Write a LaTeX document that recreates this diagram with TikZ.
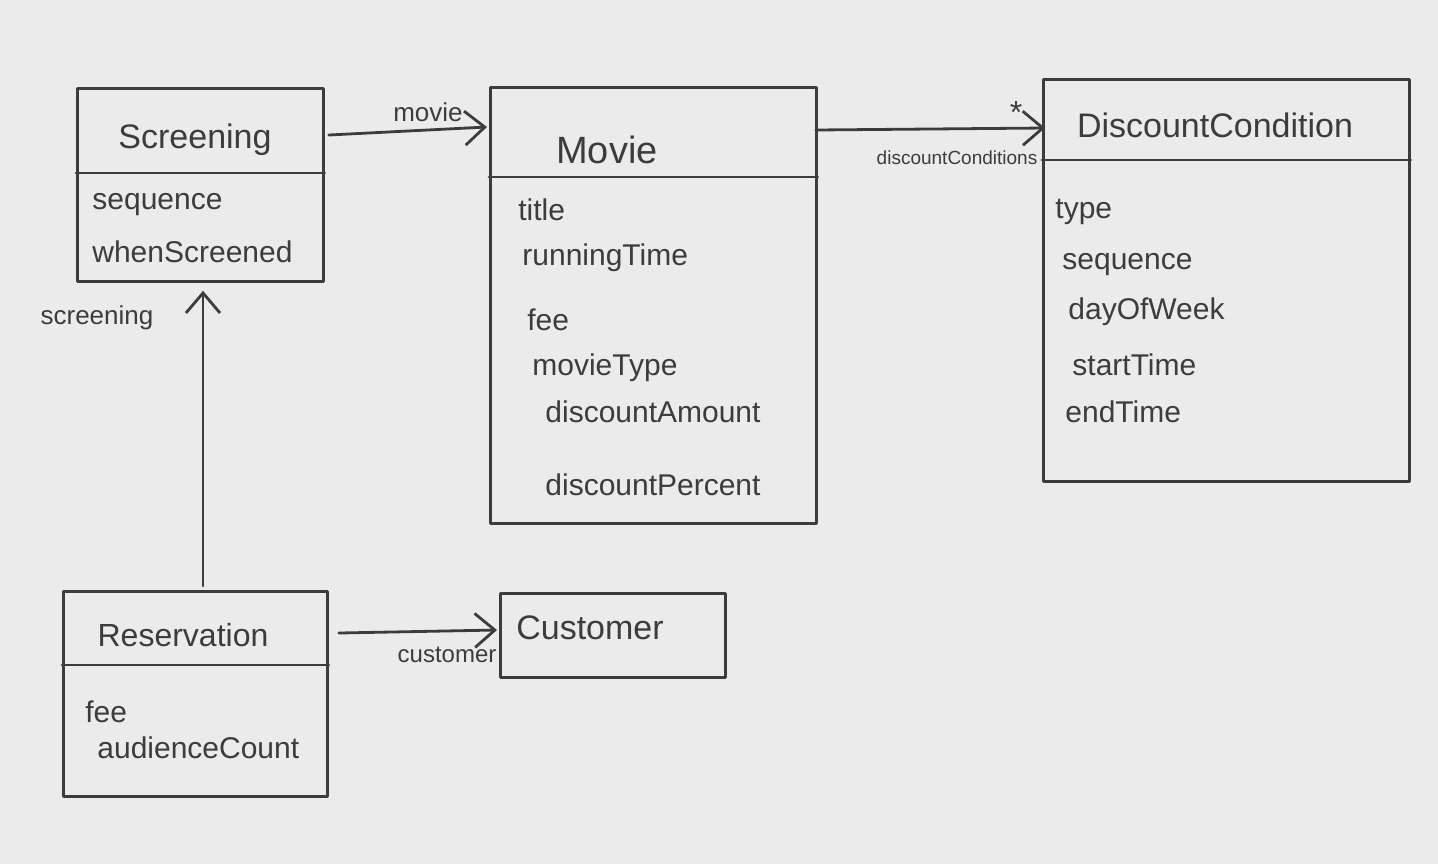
\documentclass[tikz,border=0pt]{standalone}
\usepackage{fontspec}
\setmainfont{Liberation Sans}
\usepackage{tikz}
\usetikzlibrary{calc,arrows.meta}
\definecolor{paper}{HTML}{EBEBEB}
\definecolor{pencil}{HTML}{3C3C3C}
\tikzset{
  cls/.style={draw=pencil, line width=1.4pt, line join=round, anchor=north west, inner sep=0pt},
  sep/.style={draw=pencil, line width=1.4pt, line cap=round},
  assoc/.style={draw=pencil, line width=1.4pt, line cap=round, -{Straight Barb[length=10pt,width=17pt]}},
  ttl/.style={text=pencil, font=\fontsize{17}{20}\selectfont},
  attr/.style={text=pencil, font=\fontsize{15}{18}\selectfont, anchor=west, inner sep=0pt},
  role/.style={text=pencil, font=\fontsize{12}{14}\selectfont},
}
\begin{document}
\begin{tikzpicture}[x=0.5pt,y=-0.5pt]
  \fill[paper] (0,0) rectangle (1438,864);
  \useasboundingbox (0,0) rectangle (1438,864);
  % class boxes
  \node[cls,minimum width=123pt,minimum height=96.5pt] (scr) at (76,87) {};
  \node[cls,minimum width=163pt,minimum height=218pt] (mov) at (489,86) {};
  \node[cls,minimum width=183pt,minimum height=201pt] (dis) at (1042,78) {};
  \node[cls,minimum width=132pt,minimum height=102.5pt] (res) at (62,590) {};
  \node[cls,minimum width=112.5pt,minimum height=42pt] (cus) at (499,592) {};
  % compartments
  \draw[sep] (scr.west |- 0,173) -- (scr.east |- 0,173);
  \draw[sep] (mov.west |- 0,177) -- (mov.east |- 0,177);
  \draw[sep] (dis.west |- 0,160) -- (dis.east |- 0,160);
  \draw[sep] (res.west |- 0,665) -- (res.east |- 0,665);
  % names
  \node[ttl] (scrT) at (195,140) {Screening};
  \node[ttl,font=\fontsize{19}{22}\selectfont] (movT) at (607,150) {Movie};
  \node[ttl] (disT) at (1215,125) {DiscountCondition};
  \node[ttl,font=\fontsize{16}{19}\selectfont] (resT) at (183,635) {Reservation};
  \node[ttl] (cusT) at (590,628) {Customer};
  % attributes
  \node[attr] (scr1) at (92,205) {sequence};
  \node[attr] (scr2) at (92,252) {whenScreened};
  \node[attr] (mov1) at (518,210) {title};
  \node[attr] (mov2) at (522,258) {runningTime};
  \node[attr] (mov3) at (527,320) {fee};
  \node[attr] (mov4) at (532,368) {movieType};
  \node[attr] (mov5) at (545,412) {discountAmount};
  \node[attr] (mov6) at (545,485) {discountPercent};
  \node[attr] (dis1) at (1055,212) {type};
  \node[attr] (dis2) at (1062,265) {sequence};
  \node[attr] (dis3) at (1068,312) {dayOfWeek};
  \node[attr] (dis4) at (1072,365) {startTime};
  \node[attr] (dis5) at (1065,412) {endTime};
  \node[attr] (res1) at (85,712) {fee};
  \node[attr] (res2) at (97,748) {audienceCount};
  % associations
  \draw[assoc] ([shift={(4,48)}]scr.north east) -- ([shift={(-2,41)}]mov.north west);
  \draw[assoc] ([shift={(-2,44)}]mov.north east) -- ([shift={(3,50)}]dis.north west);
  \draw[assoc] ([shift={(141,-4)}]res.north west) -- ([shift={(127,8)}]scr.south west);
  \draw[assoc] ([shift={(10,43)}]res.north east) -- ([shift={(-2,38)}]cus.north west);
  % roles
  \node[role,font=\fontsize{13}{15}\selectfont] (lMov) at (428,112) {movie};
  \node[role,font=\fontsize{16}{18}\selectfont] (lStar) at (1016,112) {*};
  \node[role,font=\fontsize{9.5}{11}\selectfont] (lDis) at (957,158) {discountConditions};
  \node[role,font=\fontsize{13}{15}\selectfont] (lScr) at (97,318) {screening};
  \node[role] (lCus) at (447,655) {customer};
\end{tikzpicture}
\end{document}
